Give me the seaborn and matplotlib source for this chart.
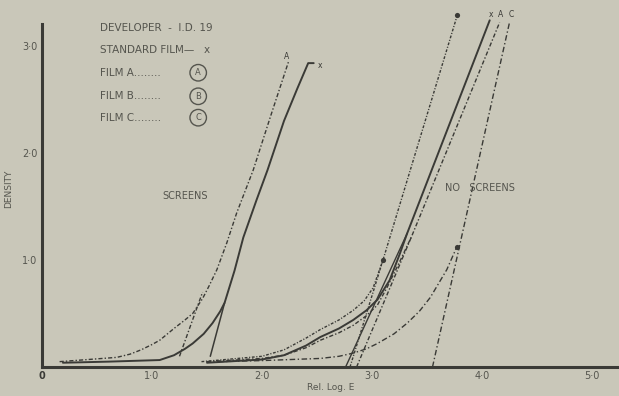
import matplotlib
matplotlib.use("Agg")
import matplotlib.pyplot as plt
import seaborn as sns

# --- data (Rel. Log E vs Density) ---
# with screens
scr_x_x = [0.19, 0.6, 1.07, 1.2, 1.3, 1.37, 1.47, 1.55, 1.62, 1.66, 1.75, 1.83, 1.95, 2.05, 2.2, 2.32, 2.42, 2.47]
scr_x_y = [0.04, 0.05, 0.065, 0.11, 0.17, 0.22, 0.31, 0.41, 0.52, 0.6, 0.9, 1.21, 1.56, 1.84, 2.3, 2.6, 2.84, 2.84]
scr_x_line_x = [1.53, 1.66]
scr_x_line_y = [0.1, 0.6]

scr_a_x = [0.16, 0.68, 0.8, 0.9, 1.0, 1.07, 1.2, 1.3, 1.37, 1.46, 1.52, 1.59, 1.68, 1.77, 1.92, 2.08, 2.24]
scr_a_y = [0.05, 0.09, 0.12, 0.16, 0.21, 0.25, 0.36, 0.44, 0.5, 0.64, 0.76, 0.91, 1.16, 1.44, 1.84, 2.35, 2.85]
scr_a_line_x = [1.25, 1.46]
scr_a_line_y = [0.1, 0.7]

# no screens
nos_x_x = [1.5, 2.0, 2.2, 2.4, 2.53, 2.7, 2.83, 2.95, 3.05, 3.16, 3.25, 3.32, 4.07]
nos_x_y = [0.04, 0.07, 0.11, 0.2, 0.28, 0.36, 0.44, 0.53, 0.63, 0.81, 1.05, 1.25, 3.24]
nos_x_line_x = [2.76, 3.32]
nos_x_line_y = [0.0, 1.25]

nos_a_x = [1.5, 2.0, 2.2, 2.4, 2.53, 2.7, 2.83, 2.95, 3.05, 3.14, 3.25, 3.36, 4.16]
nos_a_y = [0.05, 0.08, 0.11, 0.18, 0.25, 0.32, 0.39, 0.48, 0.58, 0.75, 0.98, 1.22, 3.22]
nos_a_line_x = [2.86, 3.36]
nos_a_line_y = [0.0, 1.22]

nos_b_x = [1.45, 2.0, 2.2, 2.4, 2.53, 2.7, 2.83, 2.93, 3.01, 3.1, 3.77]
nos_b_y = [0.05, 0.1, 0.16, 0.27, 0.35, 0.44, 0.53, 0.62, 0.74, 1.0, 3.27]
nos_b_line_x = [2.8, 3.1]
nos_b_line_y = [0.0, 1.0]

nos_c_x = [1.6, 2.0, 2.53, 2.7, 2.83, 2.95, 3.05, 3.2, 3.32, 3.43, 3.53, 3.68, 3.77]
nos_c_y = [0.05, 0.06, 0.08, 0.1, 0.13, 0.17, 0.22, 0.31, 0.41, 0.52, 0.65, 0.91, 1.12]
nos_c_line_x = [3.55, 4.25]
nos_c_line_y = [0.0, 3.22]

dot_x = [3.1, 3.77, 3.77]
dot_y = [1.0, 1.12, 3.29]

xtick_vals = [0, 1, 2, 3, 4, 5]
xtick_labels = ["0", "1·0", "2·0", "3·0", "4·0", "5·0"]
ytick_vals = [1, 2, 3]
ytick_labels = ["1·0", "2·0", "3·0"]

paper = "#c9c7b9"
ink = "#3a3a36"
txt = "#55554e"

sns.set_style("white")
plt.rcParams["font.family"] = ["DejaVu Sans"]

fig = plt.figure(figsize=(6.19, 3.96), dpi=100, facecolor=paper)
ax = fig.add_axes([42 / 619, 29 / 396, 1 - 42 / 619, (367 - 10) / 396])
ax.set_facecolor(paper)

solid = "-"
dashdot = (0, (3, 1.5, 1, 1.5))
dotdash = (0, (2, 1.2, 0.8, 1.2))
dashed = (0, (4, 1.8, 1, 1.8))

def draw(xs, ys, ls, lw=1.0):
    sns.lineplot(x=xs, y=ys, ax=ax, color=ink, linestyle=ls, linewidth=lw,
                 sort=False, estimator=None, legend=False)

draw(scr_x_x, scr_x_y, solid, 1.4)
draw(scr_x_line_x, scr_x_line_y, solid, 1.1)
draw(scr_a_x, scr_a_y, dashdot)
draw(scr_a_line_x, scr_a_line_y, dashdot)

draw(nos_x_x, nos_x_y, solid, 1.4)
draw(nos_x_line_x, nos_x_line_y, solid, 1.0)
draw(nos_a_x, nos_a_y, dashdot)
draw(nos_a_line_x, nos_a_line_y, dashdot)
draw(nos_b_x, nos_b_y, dotdash)
draw(nos_b_line_x, nos_b_line_y, dotdash)
draw(nos_c_x, nos_c_y, dashed)
draw(nos_c_line_x, nos_c_line_y, dashed)

sns.scatterplot(x=dot_x, y=dot_y, ax=ax, color=ink, s=14, linewidth=0, legend=False)

ax.set_xlim(0, 619 / 110 - 42 / 110)
ax.set_ylim(0, (367 - 10) / 107)
ax.spines["top"].set_visible(False)
ax.spines["right"].set_visible(False)
ax.spines["left"].set_linewidth(2.2)
ax.spines["bottom"].set_linewidth(2.2)
ax.spines["left"].set_color(ink)
ax.spines["bottom"].set_color(ink)
ax.spines["left"].set_bounds(0, 3.21)

ax.set_xticks(xtick_vals)
ax.set_xticklabels(xtick_labels)
ax.set_yticks(ytick_vals)
ax.set_yticklabels(ytick_labels)
ax.set_yticks([0.33, 0.67, 1.33, 1.67, 2.33, 2.67], minor=True)
ax.tick_params(axis="both", labelsize=7, colors=txt, length=3, width=0.8, direction="in")
ax.tick_params(axis="y", which="minor", length=3, width=0.6, direction="in", color=txt)
ax.tick_params(axis="x", pad=3)
ax.get_xticklabels()[0].set_fontweight("bold")
ax.get_xticklabels()[0].set_color(ink)

ax.set_xlabel("Rel. Log. E", fontsize=6.5, color=txt, labelpad=1)
ax.set_ylabel("DENSITY", fontsize=6.5, color=txt, labelpad=6)

# key
key = dict(fontsize=7.5, color=txt, va="center", ha="left")
ax.text(0.53, 3.17, "DEVELOPER  -  I.D. 19", **key)
ax.text(0.53, 2.96, "STANDARD FILM—   x", **key)
circ = dict(boxstyle="circle,pad=0.45", fc="none", ec=txt, lw=1.0)
for yy, name, letter in [(2.75, "FILM A", "A"), (2.53, "FILM B", "B"), (2.33, "FILM C", "C")]:
    ax.text(0.53, yy, name + "........", **key)
    ax.text(1.42, yy, letter, fontsize=6, color=txt, ha="center", va="center", bbox=circ)

ax.text(1.3, 1.6, "SCREENS", fontsize=7, color=txt, ha="center", va="center")
ax.text(3.98, 1.67, "NO   SCREENS", fontsize=7, color=txt, ha="center", va="center")

lab = dict(fontsize=5.5, color=ink, ha="center", va="center")
ax.text(2.22, 2.9, "A", **lab)
ax.text(2.53, 2.82, "x", **lab)
ax.text(4.08, 3.29, "x", **lab)
ax.text(4.17, 3.29, "A", **lab)
ax.text(4.27, 3.29, "C", **lab)

fig.savefig("out.png", dpi=100, facecolor=paper)
